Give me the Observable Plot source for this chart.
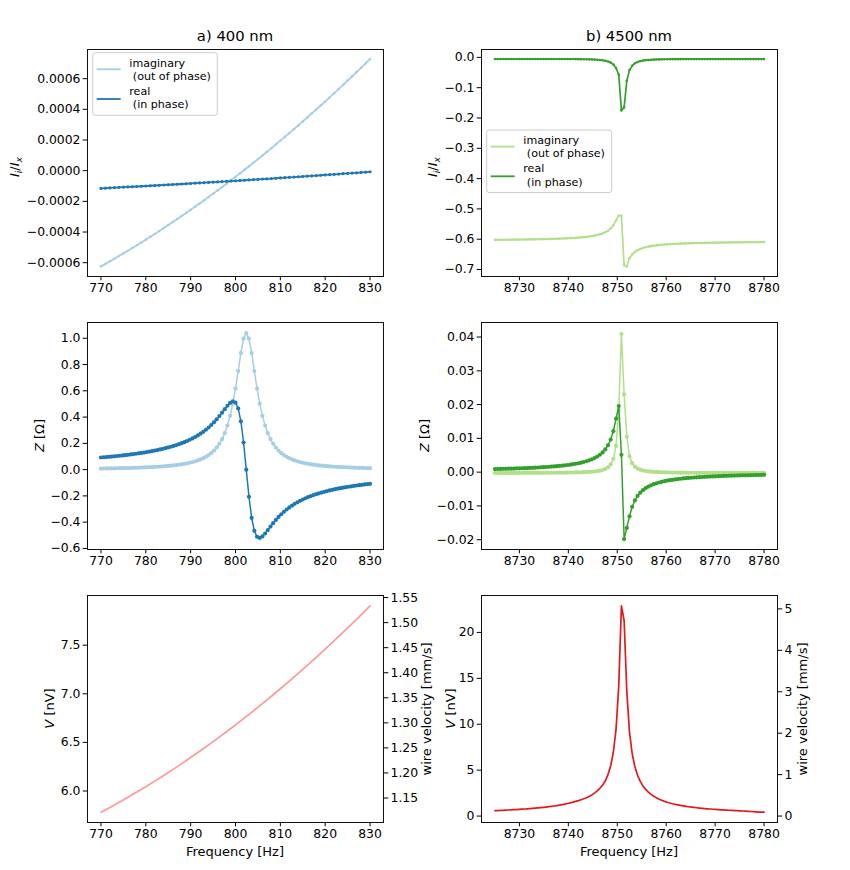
<!DOCTYPE html>
<html><head><meta charset="utf-8">
<script src="https://cdn.jsdelivr.net/npm/d3@7"></script>
<script src="https://cdn.jsdelivr.net/npm/@observablehq/plot@0.6"></script>
<style>
html,body{margin:0;padding:0;background:#fff;}
#chart{position:relative;width:850px;height:870px;overflow:hidden;background:#fff;font-family:"DejaVu Sans";}
#chart svg{position:absolute;overflow:visible;}
</style></head><body><div id="chart"></div>
<script>
// ---------------- DATA ----------------
// sweep grids (frequency, Hz)
const freqTopLeft = d3.range(61).map(i => 770 + i);          // 1 Hz
const freqLeft    = d3.range(101).map(i => 770 + 0.6 * i);   // 101-point sweep
const freqBotLeft = d3.range(31).map(i => 770 + 2 * i);      // 2 Hz
const freqRight   = d3.range(101).map(i => 8725 + 0.55 * i); // 101-point sweep

// a) 400 nm : I_i/I_x  (values in units of 1e-4)
const ratioImagA_e4 = [-6.241,-6.076,-5.908,-5.739,-5.568,-5.395,-5.219,-5.042,-4.863,-4.681,
 -4.498,-4.313,-4.125,-3.935,-3.744,-3.550,-3.354,-3.157,-2.957,-2.755,
 -2.551,-2.345,-2.137,-1.927,-1.715,-1.501,-1.285,-1.067,-0.847,-0.624,
 -0.400,-0.174,0.055,0.285,0.517,0.753,0.989,1.227,1.467,1.711,
 1.955,2.201,2.451,2.701,2.954,3.210,3.466,3.725,3.985,4.249,
 4.514,4.781,5.051,5.322,5.595,5.871,6.148,6.427,6.708,6.992,7.277];
const ratioRealA_e4 = [-1.155,-1.140,-1.125,-1.110,-1.094,-1.079,-1.063,-1.048,-1.032,-1.016,
 -1.000,-0.984,-0.968,-0.952,-0.935,-0.919,-0.902,-0.886,-0.869,-0.852,
 -0.835,-0.818,-0.801,-0.784,-0.766,-0.749,-0.731,-0.714,-0.696,-0.678,
 -0.660,-0.642,-0.624,-0.606,-0.587,-0.569,-0.550,-0.532,-0.513,-0.494,
 -0.475,-0.456,-0.437,-0.418,-0.398,-0.379,-0.359,-0.340,-0.320,-0.300,
 -0.280,-0.260,-0.240,-0.220,-0.199,-0.179,-0.158,-0.138,-0.117,-0.096,-0.075];

// a) 400 nm : Z [Ohm]
const zImagA = [0.0083,0.0086,0.0089,0.0093,0.0096,0.0100,0.0104,0.0109,0.0114,0.0119,
 0.0124,0.0130,0.0136,0.0143,0.0150,0.0157,0.0166,0.0174,0.0184,0.0195,
 0.0206,0.0218,0.0232,0.0247,0.0263,0.0281,0.0301,0.0323,0.0347,0.0375,
 0.0405,0.0440,0.0479,0.0523,0.0574,0.0632,0.0699,0.0778,0.0870,0.0978,
 0.1108,0.1263,0.1452,0.1683,0.1969,0.2328,0.2781,0.3357,0.4093,0.5024,
 0.6172,0.7507,0.8879,0.9973,1.0400,0.9973,0.8879,0.7507,0.6172,0.5024,
 0.4093,0.3357,0.2781,0.2328,0.1969,0.1683,0.1452,0.1263,0.1108,0.0978,
 0.0870,0.0778,0.0699,0.0632,0.0574,0.0523,0.0479,0.0440,0.0405,0.0375,
 0.0347,0.0323,0.0301,0.0281,0.0263,0.0247,0.0232,0.0218,0.0206,0.0195,
 0.0184,0.0174,0.0166,0.0157,0.0150,0.0143,0.0136,0.0130,0.0124,0.0119,0.0114];
const zRealA = [0.0923,0.0941,0.0958,0.0977,0.0996,0.1016,0.1037,0.1058,0.1081,0.1104,
 0.1129,0.1154,0.1181,0.1209,0.1239,0.1269,0.1302,0.1336,0.1372,0.1409,
 0.1449,0.1491,0.1536,0.1583,0.1633,0.1687,0.1743,0.1804,0.1869,0.1938,
 0.2013,0.2093,0.2180,0.2273,0.2375,0.2485,0.2605,0.2736,0.2879,0.3036,
 0.3208,0.3397,0.3604,0.3830,0.4075,0.4335,0.4603,0.4863,0.5081,0.5197,
 0.5108,0.4660,0.3674,0.2063,0.0000,-0.2063,-0.3674,-0.4660,-0.5108,-0.5197,
 -0.5081,-0.4863,-0.4603,-0.4335,-0.4075,-0.3830,-0.3604,-0.3397,-0.3208,-0.3036,
 -0.2879,-0.2736,-0.2605,-0.2485,-0.2375,-0.2273,-0.2180,-0.2093,-0.2013,-0.1938,
 -0.1869,-0.1804,-0.1743,-0.1687,-0.1633,-0.1583,-0.1536,-0.1491,-0.1449,-0.1409,
 -0.1372,-0.1336,-0.1302,-0.1269,-0.1239,-0.1209,-0.1181,-0.1154,-0.1129,-0.1104,-0.1081];

// a) 400 nm : V [nV]
const voltA = [5.7815,5.8313,5.8825,5.9352,5.9892,6.0448,6.1018,6.1602,6.2202,6.2815,
 6.3443,6.4086,6.4742,6.5414,6.6099,6.6800,6.7515,6.8244,6.8988,6.9746,
 7.0519,7.1307,7.2108,7.2924,7.3754,7.4600,7.5460,7.6334,7.7223,7.8125,7.9043];

// b) 4500 nm : I_i/I_x
const ratioImagB = [-0.6021,-0.6020,-0.6019,-0.6018,-0.6017,-0.6016,-0.6015,-0.6014,-0.6013,-0.6012,
 -0.6011,-0.6009,-0.6008,-0.6006,-0.6005,-0.6003,-0.6001,-0.5999,-0.5997,-0.5995,
 -0.5992,-0.5990,-0.5987,-0.5984,-0.5981,-0.5977,-0.5973,-0.5969,-0.5964,-0.5959,
 -0.5953,-0.5947,-0.5939,-0.5931,-0.5921,-0.5910,-0.5897,-0.5881,-0.5862,-0.5838,
 -0.5809,-0.5770,-0.5718,-0.5646,-0.5538,-0.5379,-0.5219,-0.5225,-0.6860,-0.6900,
 -0.6622,-0.6501,-0.6420,-0.6363,-0.6322,-0.6290,-0.6264,-0.6244,-0.6228,-0.6214,
 -0.6202,-0.6192,-0.6183,-0.6175,-0.6169,-0.6163,-0.6157,-0.6152,-0.6148,-0.6144,
 -0.6140,-0.6137,-0.6134,-0.6131,-0.6128,-0.6126,-0.6124,-0.6122,-0.6120,-0.6118,
 -0.6116,-0.6114,-0.6113,-0.6111,-0.6110,-0.6109,-0.6107,-0.6106,-0.6105,-0.6104,
 -0.6103,-0.6102,-0.6101,-0.6100,-0.6099,-0.6098,-0.6098,-0.6097,-0.6096,-0.6095,-0.6095];
const ratioRealB = [-0.0055,-0.0055,-0.0055,-0.0055,-0.0055,-0.0055,-0.0055,-0.0055,-0.0055,-0.0055,
 -0.0055,-0.0055,-0.0055,-0.0055,-0.0055,-0.0055,-0.0055,-0.0055,-0.0055,-0.0055,
 -0.0055,-0.0055,-0.0055,-0.0055,-0.0055,-0.0055,-0.0055,-0.0055,-0.0055,-0.0055,
 -0.0057,-0.0058,-0.0059,-0.0061,-0.0063,-0.0065,-0.0068,-0.0072,-0.0078,-0.0086,
 -0.0097,-0.0112,-0.0135,-0.0172,-0.0235,-0.0350,-0.0570,-0.1750,-0.1650,-0.0770,
 -0.0420,-0.0275,-0.0195,-0.0150,-0.0122,-0.0105,-0.0093,-0.0084,-0.0078,-0.0073,
 -0.0069,-0.0066,-0.0064,-0.0062,-0.0061,-0.0060,-0.0059,-0.0059,-0.0058,-0.0058,
 -0.0057,-0.0057,-0.0057,-0.0057,-0.0057,-0.0056,-0.0056,-0.0056,-0.0056,-0.0056,
 -0.0056,-0.0056,-0.0056,-0.0056,-0.0056,-0.0056,-0.0056,-0.0056,-0.0056,-0.0056,
 -0.0056,-0.0056,-0.0056,-0.0056,-0.0056,-0.0056,-0.0056,-0.0056,-0.0056,-0.0056,-0.0056];

// b) 4500 nm : Z  (values in mOhm)
const zImagB_milli = [-0.229,-0.228,-0.227,-0.226,-0.225,-0.224,-0.222,-0.221,-0.220,-0.218,
 -0.216,-0.214,-0.212,-0.210,-0.208,-0.205,-0.202,-0.199,-0.195,-0.191,
 -0.187,-0.182,-0.176,-0.170,-0.163,-0.155,-0.146,-0.135,-0.123,-0.109,
 -0.092,-0.072,-0.048,-0.018,0.018,0.063,0.122,0.198,0.300,0.440,
 0.642,0.947,1.435,2.287,3.955,7.798,18.38,40.9,23.0,10.5,
 4.741,2.655,1.633,1.064,0.718,0.491,0.336,0.224,0.142,0.079,
 0.030,-0.009,-0.040,-0.065,-0.087,-0.104,-0.119,-0.132,-0.143,-0.153,
 -0.161,-0.168,-0.175,-0.180,-0.186,-0.190,-0.194,-0.198,-0.201,-0.204,
 -0.207,-0.209,-0.212,-0.214,-0.216,-0.218,-0.219,-0.221,-0.222,-0.223,
 -0.225,-0.226,-0.227,-0.228,-0.229,-0.230,-0.231,-0.231,-0.232,-0.233,-0.233];
const zRealB_milli = [0.906,0.926,0.946,0.968,0.990,1.014,1.038,1.064,1.092,1.120,
 1.150,1.182,1.216,1.251,1.289,1.329,1.372,1.417,1.466,1.518,
 1.574,1.634,1.699,1.770,1.846,1.929,2.015,2.115,2.225,2.346,
 2.482,2.634,2.806,3.003,3.228,3.490,3.797,4.163,4.607,5.153,
 5.845,6.743,7.947,9.640,12.13,15.83,19.56,5.13,-19.8,-16.5,
 -13.06,-10.26,-8.378,-7.052,-6.081,-5.338,-4.752,-4.283,-3.897,-3.574,
 -3.300,-3.065,-2.861,-2.682,-2.524,-2.384,-2.259,-2.146,-2.043,-1.950,
 -1.870,-1.791,-1.719,-1.653,-1.591,-1.534,-1.481,-1.431,-1.385,-1.341,
 -1.300,-1.262,-1.226,-1.192,-1.159,-1.129,-1.100,-1.072,-1.046,-1.021,
 -0.997,-0.974,-0.953,-0.932,-0.912,-0.893,-0.875,-0.857,-0.840,-0.824,-0.808];

// b) 4500 nm : V [nV]
const voltB = [0.590,0.603,0.616,0.629,0.644,0.660,0.675,0.692,0.710,0.728,
 0.747,0.768,0.790,0.813,0.837,0.862,0.890,0.920,0.951,0.984,
 1.020,1.058,1.100,1.145,1.194,1.247,1.305,1.368,1.438,1.515,
 1.602,1.684,1.777,1.881,2.001,2.141,2.304,2.499,2.735,3.024,
 3.390,3.828,4.508,5.476,6.951,9.431,14.16,22.9,21.3,13.58,
 9.142,6.787,5.371,4.437,3.775,3.285,2.906,2.605,2.360,2.157,
 1.986,1.841,1.715,1.605,1.508,1.423,1.346,1.277,1.215,1.159,
 1.108,1.061,1.018,0.978,0.941,0.907,0.875,0.846,0.818,0.792,
 0.768,0.745,0.723,0.703,0.684,0.666,0.648,0.632,0.616,0.602,
 0.588,0.574,0.555,0.535,0.515,0.495,0.475,0.455,0.440,0.430,0.425];

// wire velocity per nV
const velPerNV_A = 0.194;
const velPerNV_B = 0.2216;

// tick labels
const ticksXA = [770,780,790,800,810,820,830];
const ticksXB = [8730,8740,8750,8760,8770,8780];
const ticksY1A = [-0.0006,-0.0004,-0.0002,0,0.0002,0.0004,0.0006];
const ticksY1B = [-0.7,-0.6,-0.5,-0.4,-0.3,-0.2,-0.1,0];
const ticksY2A = [-0.6,-0.4,-0.2,0,0.2,0.4,0.6,0.8,1.0];
const ticksY2B = [-0.02,-0.01,0,0.01,0.02,0.03,0.04];
const ticksY3A = [6.0,6.5,7.0,7.5];
const ticksY3A_vel = [1.15,1.20,1.25,1.30,1.35,1.40,1.45,1.50,1.55];
const ticksY3B = [0,5,10,15,20];
const ticksY3B_vel = [0,1,2,3,4,5];

const titles = ["a) 400 nm", "b) 4500 nm"];
const legendLabels = ["imaginary\n (out of phase)", "real\n (in phase)"];

// colours (Paired)
const C = {lb:"#a6cee3", db:"#1f78b4", lg:"#b2df8a", dg:"#33a02c", pk:"#fb9a99", rd:"#e31a1c"};

// ---------------- BUILD ----------------
const rowsTL = freqTopLeft.map((f,i)=>({f, im: ratioImagA_e4[i]*1e-4, re: ratioRealA_e4[i]*1e-4}));
const rowsML = freqLeft.map((f,i)=>({f, im: zImagA[i], re: zRealA[i]}));
const rowsBL = freqBotLeft.map((f,i)=>({f, v: voltA[i]}));
const rowsTR = freqRight.map((f,i)=>({f, im: ratioImagB[i], re: ratioRealB[i]}));
const rowsMR = freqRight.map((f,i)=>({f, im: zImagB_milli[i]/1000, re: zRealB_milli[i]/1000}));
const rowsBR = freqRight.map((f,i)=>({f, v: voltB[i]}));

const chart = document.getElementById("chart");
const FONT = "DejaVu Sans";
const TS = 12.4;   // tick labels
const LS = 13.0;   // axis labels
const colX = [[87,383],[481,777]];
const rowY = [[49,276],[322,549],[595,822]];
const svgRow = [[0,300],[300,280],[580,290]];
const xDom = [[767,833],[8722.25,8782.75]];
const axOpt = {tickSize: 4.3, tickPadding: 2.7, label: null};

function panel(col, row, yDomain, marks, overlay=false) {
  const left = col*425, top = svgRow[row][0], H = svgRow[row][1], W = 425;
  const svg = Plot.plot({
    width: W, height: H,
    marginLeft: colX[col][0]-left, marginRight: left+W-colX[col][1],
    marginTop: rowY[row][0]-top, marginBottom: top+H-rowY[row][1],
    x: {domain: xDom[col], axis: overlay ? null : undefined},
    y: {domain: yDomain},
    style: {fontFamily: FONT, fontSize: TS+"px", color: "black", background: "transparent", overflow: "visible"},
    marks
  });
  svg.style.left = left+"px"; svg.style.top = top+"px";
  chart.append(svg);
}
const frame = () => Plot.frame({stroke: "#111", strokeWidth: 1});
const xAxis = (col) => Plot.axisX({...axOpt, ticks: col ? ticksXB : ticksXA, tickFormat: d3.format("d")});

// P1
panel(0,0,[-0.00069,0.00079],[
  Plot.line(rowsTL,{x:"f",y:"im",stroke:C.lb,strokeWidth:1.8}),
  Plot.dot(rowsTL,{x:"f",y:"im",fill:C.lb,r:1.3}),
  Plot.line(rowsTL,{x:"f",y:"re",stroke:C.db,strokeWidth:1.8}),
  Plot.dot(rowsTL,{x:"f",y:"re",fill:C.db,r:1.6}),
  frame(), xAxis(0),
  Plot.axisY({...axOpt, ticks: ticksY1A, tickFormat: d3.format(".4f")})
]);
// P2
panel(1,0,[-0.723,0.026],[
  Plot.line(rowsTR,{x:"f",y:"im",stroke:C.lg,strokeWidth:1.7}),
  Plot.dot(rowsTR,{x:"f",y:"im",fill:C.lg,r:1.3}),
  Plot.line(rowsTR,{x:"f",y:"re",stroke:C.dg,strokeWidth:1.7}),
  Plot.dot(rowsTR,{x:"f",y:"re",fill:C.dg,r:1.3}),
  frame(), xAxis(1),
  Plot.axisY({...axOpt, ticks: ticksY1B, tickFormat: d3.format(".1f")})
]);
// P3
panel(0,1,[-0.608,1.12],[
  Plot.line(rowsML,{x:"f",y:"im",stroke:C.lb,strokeWidth:1.5}),
  Plot.dot(rowsML,{x:"f",y:"im",fill:C.lb,r:2.1}),
  Plot.line(rowsML,{x:"f",y:"re",stroke:C.db,strokeWidth:1.5}),
  Plot.dot(rowsML,{x:"f",y:"re",fill:C.db,r:2.1}),
  frame(), xAxis(0),
  Plot.axisY({...axOpt, ticks: ticksY2A, tickFormat: d3.format(".1f")})
]);
// P4
panel(1,1,[-0.0229,0.0443],[
  Plot.line(rowsMR,{x:"f",y:"im",stroke:C.lg,strokeWidth:1.5}),
  Plot.dot(rowsMR,{x:"f",y:"im",fill:C.lg,r:2.1}),
  Plot.line(rowsMR,{x:"f",y:"re",stroke:C.dg,strokeWidth:1.5}),
  Plot.dot(rowsMR,{x:"f",y:"re",fill:C.dg,r:2.1}),
  frame(), xAxis(1),
  Plot.axisY({...axOpt, ticks: ticksY2B, tickFormat: d3.format(".2f")})
]);
// P5
const vDomA = [5.676, 8.011];
panel(0,2,vDomA,[
  Plot.line(rowsBL,{x:"f",y:"v",stroke:C.pk,strokeWidth:1.7}),
  frame(), xAxis(0),
  Plot.axisY({...axOpt, ticks: ticksY3A, tickFormat: d3.format(".1f")})
]);
panel(0,2,vDomA.map(v=>v*velPerNV_A),[
  Plot.axisY({...axOpt, anchor:"right", ticks: ticksY3A_vel, tickFormat: d3.format(".2f")})
], true);
// P6
const vDomB = [-0.70, 24.02];
panel(1,2,vDomB,[
  Plot.line(rowsBR,{x:"f",y:"v",stroke:C.rd,strokeWidth:1.7}),
  frame(), xAxis(1),
  Plot.axisY({...axOpt, ticks: ticksY3B, tickFormat: d3.format("d")})
]);
panel(1,2,vDomB.map(v=>v*velPerNV_B),[
  Plot.axisY({...axOpt, anchor:"right", ticks: ticksY3B_vel, tickFormat: d3.format("d")})
], true);

// ---------------- TEXT OVERLAY ----------------
const ov = d3.create("svg").attr("width",850).attr("height",870)
  .style("left","0px").style("top","0px").style("font-family",FONT).style("pointer-events","none");
chart.append(ov.node());

// titles
[[235,titles[0]],[629,titles[1]]].forEach(([x,t])=>{
  ov.append("text").attr("x",x).attr("y",41).attr("text-anchor","middle").attr("font-size",14.8).text(t);
});
// x labels
[235,629].forEach(x=>{
  ov.append("text").attr("x",x).attr("y",856).attr("text-anchor","middle").attr("font-size",LS).text("Frequency [Hz]");
});
function yLabel(x, y, parts) {
  const t = ov.append("text").attr("transform",`translate(${x},${y}) rotate(-90)`)
    .attr("text-anchor","middle").attr("font-size",LS);
  parts.forEach(p=>{
    const s = t.append("tspan").text(p.t);
    if (p.i) s.attr("font-style","italic");
    if (p.sub) s.attr("font-size",LS*0.7).attr("dy",2.5);
    if (p.up) s.attr("dy",-2.5);
  });
}
const ratioLabel = [{t:"I",i:1},{t:"i",i:1,sub:1},{t:"/",up:1},{t:"I",i:1},{t:"x",i:1,sub:1}];
yLabel(19,167,ratioLabel);
yLabel(437,167,ratioLabel);
yLabel(44,435.5,[{t:"Z",i:1},{t:" [Ω]"}]);
yLabel(429,435.5,[{t:"Z",i:1},{t:" [Ω]"}]);
yLabel(54,708.5,[{t:"V",i:1},{t:" [nV]"}]);
yLabel(454.5,708.5,[{t:"V",i:1},{t:" [nV]"}]);
yLabel(430.5,709,[{t:"wire velocity [mm/s]"}]);
yLabel(806.5,709,[{t:"wire velocity [mm/s]"}]);

// legends
function legend(x0, y0, w, colors) {
  const g = ov.append("g");
  g.append("rect").attr("x",x0).attr("y",y0).attr("width",w).attr("height",62.6).attr("rx",2.5)
    .attr("fill","white").attr("fill-opacity",0.8).attr("stroke","#cccccc").attr("stroke-width",1);
  const offs = [[16.6,14,26.8],[46.3,42.3,55.6]];
  legendLabels.forEach((lab,k)=>{
    g.append("line").attr("x1",x0+4).attr("x2",x0+28).attr("y1",y0+offs[k][0]).attr("y2",y0+offs[k][0])
      .attr("stroke",colors[k]).attr("stroke-width",1.8);
    const lines = lab.split("\n");
    lines.forEach((ln,j)=>{
      g.append("text").attr("x",x0+36.6).attr("y",y0+offs[k][1+j]).attr("font-size",11.1)
        .style("white-space","pre").text(ln);
    });
  });
}
legend(92.7,52.7,124.6,[C.lb,C.db]);
legend(486.7,130,125,[C.lg,C.dg]);
</script></body></html>
